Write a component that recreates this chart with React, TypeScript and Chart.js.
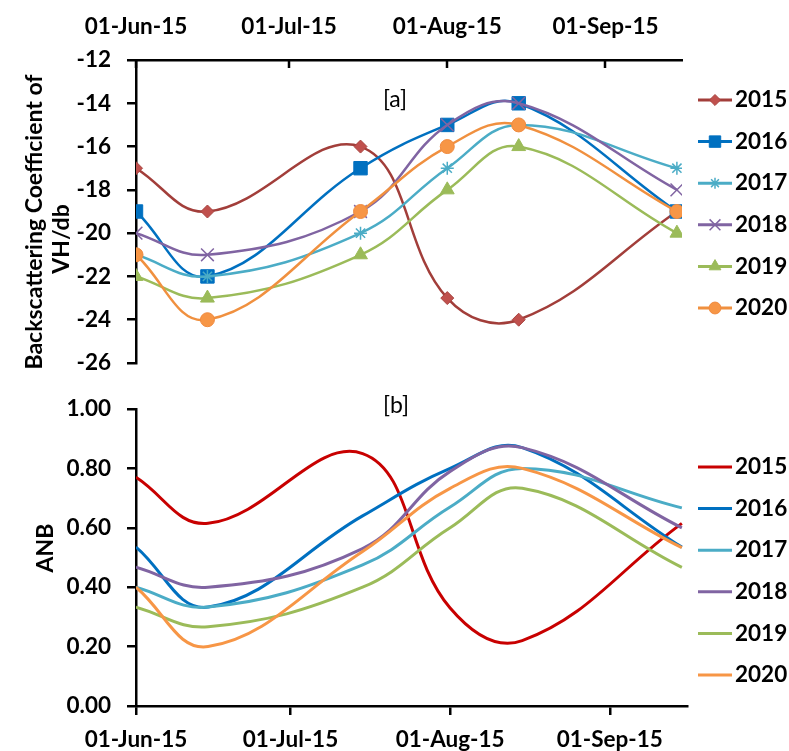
import React, { useEffect, useRef } from 'react';
import { Chart, registerables } from 'chart.js';
import { drawPoint } from 'chart.js/helpers';

Chart.register(...registerables);

const FONT = 'Lato, "Open Sans", "DejaVu Sans", sans-serif';
const FS = 22.5;

// ---------- data ----------
const seriesNames = ['2015', '2016', '2017', '2018', '2019', '2020'];
// acquisition dates as day offsets from 01-Jun-2015
const sampleDays = [0, 14, 44, 61, 75, 106];
const axisMaxDay = 107;
const tickDays = [0, 30, 61, 92];
const tickLabels = ['01-Jun-15', '01-Jul-15', '01-Aug-15', '01-Sep-15'];

const vh2015 = [-17, -19, -16, -23, -24, -19];
const vh2016 = [-19, -22, -17, -15, -14, -19];
const vh2017 = [-21, -22, -20, -17, -15, -17];
const vh2018 = [-20, -21, -19, -15, -14, -18];
const vh2019 = [-22, -23, -21, -18, -16, -20];
const vh2020 = [-21, -24, -19, -16, -15, -19];

const anb2015 = [0.77, 0.615, 0.85, 0.33, 0.22, 0.615];
const anb2016 = [0.535, 0.333, 0.64, 0.8, 0.87, 0.535];
const anb2017 = [0.4, 0.333, 0.475, 0.67, 0.8, 0.667];
const anb2018 = [0.467, 0.4, 0.53, 0.79, 0.87, 0.6];
const anb2019 = [0.333, 0.267, 0.4, 0.6, 0.733, 0.467];
const anb2020 = [0.4, 0.2, 0.52, 0.733, 0.8, 0.533];

const vhSeries = [vh2015, vh2016, vh2017, vh2018, vh2019, vh2020];
const anbSeries = [anb2015, anb2016, anb2017, anb2018, anb2019, anb2020];

// ---------- styles ----------
const topLineColors = ['#A23E3A', '#0070C0', '#4BACC6', '#8064A2', '#9BBB59', '#F0903F'];
const topMarkerFill = ['#C0504D', '#0070C0', '#4BACC6', '#8064A2', '#9BBB59', '#F79646'];
const topMarkerBorder = ['#A8433F', '#0070C0', '#4BACC6', '#8064A2', '#9BBB59', '#F08A3E'];
const pointStyles = ['rectRot', 'rect', 'star', 'crossRot', 'triangle', 'circle'];
const pointRadii = [6.5, 9.5, 6.5, 9, 8, 7];
const pointBorderWidths = [1, 1, 1.5, 1.5, 1, 1];
const botLineColors = ['#C80000', '#0070C0', '#4BACC6', '#8064A2', '#9BBB59', '#F79646'];

const tickFont = { family: FONT, size: FS, weight: 'bold' as const };

function drawLegend(ctx: CanvasRenderingContext2D, startY: number, step: number, lineColors: string[], markers: boolean) {
  seriesNames.forEach((name, i) => {
    const y = startY + i * step;
    ctx.save();
    ctx.strokeStyle = lineColors[i];
    ctx.lineWidth = 3;
    ctx.beginPath();
    ctx.moveTo(698, y);
    ctx.lineTo(732, y);
    ctx.stroke();
    if (markers) {
      ctx.fillStyle = topMarkerFill[i];
      ctx.strokeStyle = topMarkerBorder[i];
      ctx.lineWidth = pointBorderWidths[i];
      drawPoint(ctx, { pointStyle: pointStyles[i] as any, radius: pointRadii[i] * 0.85, rotation: 0, borderWidth: pointBorderWidths[i] }, 715, y);
    }
    ctx.fillStyle = '#000';
    ctx.font = `bold ${FS}px ${FONT}`;
    ctx.textAlign = 'left';
    ctx.textBaseline = 'middle';
    ctx.fillText(name, 735, y);
    ctx.restore();
  });
}

function drawRotated(ctx: CanvasRenderingContext2D, text: string, x: number, y: number) {
  ctx.save();
  ctx.translate(x, y);
  ctx.rotate(-Math.PI / 2);
  ctx.font = `bold ${FS + 0.5}px ${FONT}`;
  ctx.fillStyle = '#000';
  ctx.textAlign = 'center';
  ctx.textBaseline = 'middle';
  ctx.fillText(text, 0, 0);
  ctx.restore();
}

function drawTag(ctx: CanvasRenderingContext2D, text: string, x: number, y: number) {
  ctx.save();
  ctx.font = `${FS + 0.5}px ${FONT}`;
  ctx.fillStyle = '#000';
  ctx.textAlign = 'center';
  ctx.textBaseline = 'middle';
  ctx.fillText(text, x, y);
  ctx.restore();
}

const topOverlay = {
  id: 'topOverlay',
  afterDraw(chart: any) {
    const ctx: CanvasRenderingContext2D = chart.ctx;
    const xs = chart.scales.x;
    ctx.save();
    ctx.strokeStyle = '#000';
    ctx.lineWidth = 2.5;
    tickDays.forEach((d) => {
      const px = Math.round(xs.getPixelForValue(d));
      ctx.beginPath();
      ctx.moveTo(px, xs.bottom);
      ctx.lineTo(px, xs.bottom + 8);
      ctx.stroke();
    });
    ctx.restore();
    drawLegend(ctx, 100, 41.6, topLineColors, true);
    drawRotated(ctx, 'Backscattering Coefficient of', 35, 222);
    drawRotated(ctx, 'VH/db', 62, 239);
    drawTag(ctx, '[a]', 395, 100);
  },
};

const botOverlay = {
  id: 'botOverlay',
  afterDraw(chart: any) {
    const ctx: CanvasRenderingContext2D = chart.ctx;
    drawLegend(ctx, 77, 41.6, botLineColors, false);
    drawRotated(ctx, 'ANB', 46, 158);
    drawTag(ctx, '[b]', 396, 16);
  },
};

function xScale(position: 'top' | 'bottom', height: number, padding: number, withTicks: boolean) {
  return {
    type: 'linear' as const,
    position,
    min: 0,
    max: axisMaxDay,
    afterBuildTicks: (s: any) => {
      s.ticks = tickDays.map((v) => ({ value: v }));
    },
    ticks: {
      autoSkip: false,
      maxRotation: 0,
      padding,
      color: '#000',
      font: tickFont,
      callback: (_v: any, i: number) => tickLabels[i],
    },
    grid: withTicks
      ? { drawOnChartArea: false, color: '#000', lineWidth: 2.5, tickLength: 9 }
      : { display: false },
    border: { display: true, color: '#000', width: 2.5 },
    afterFit: (s: any) => {
      s.height = height;
      s.paddingLeft = 0;
      s.paddingRight = 0;
    },
  };
}

function yScale(min: number, max: number, step: number, fmt: (v: number) => string) {
  return {
    type: 'linear' as const,
    min,
    max,
    ticks: {
      stepSize: step,
      padding: 16,
      color: '#000',
      font: tickFont,
      callback: (v: any) => fmt(Number(v)),
    },
    grid: { drawOnChartArea: false, color: '#000', lineWidth: 2.5, tickLength: 9 },
    border: { display: true, color: '#000', width: 2.5 },
    afterFit: (s: any) => {
      s.width = 136;
      s.paddingTop = 0;
      s.paddingBottom = 0;
    },
  };
}

export default function App() {
  const topRef = useRef<HTMLCanvasElement>(null);
  const botRef = useRef<HTMLCanvasElement>(null);

  useEffect(() => {
    document.body.style.margin = '0';
    const topChart = new Chart(topRef.current!, {
      type: 'line',
      data: {
        datasets: vhSeries.map((vals, i) => ({
          label: seriesNames[i],
          data: sampleDays.map((d, j) => ({ x: d, y: vals[j] })),
          borderColor: topLineColors[i],
          backgroundColor: topMarkerFill[i],
          pointBackgroundColor: topMarkerFill[i],
          pointBorderColor: topMarkerBorder[i],
          pointStyle: pointStyles[i] as any,
          pointRadius: pointRadii[i],
          pointBorderWidth: pointBorderWidths[i],
          borderWidth: 2.5,
          tension: 0.4,
          fill: false,
          order: 5 - i,
        })),
      },
      options: {
        responsive: false,
        animation: false,
        events: [],
        layout: { padding: { left: 0, top: 0, right: 107, bottom: 27 } },
        plugins: { legend: { display: false }, tooltip: { enabled: false } },
        scales: {
          x: xScale('top', 60, 12, false),
          y: yScale(-26, -12, 2, (v) => String(v)),
        },
      },
      plugins: [topOverlay],
    });

    const botChart = new Chart(botRef.current!, {
      type: 'line',
      data: {
        datasets: anbSeries.map((vals, i) => ({
          label: seriesNames[i],
          data: sampleDays.map((d, j) => ({ x: d, y: vals[j] })),
          borderColor: botLineColors[i],
          backgroundColor: botLineColors[i],
          pointRadius: 0,
          borderWidth: 3,
          tension: 0.4,
          fill: false,
          order: 5 - i,
        })),
      },
      options: {
        responsive: false,
        animation: false,
        events: [],
        layout: { padding: { left: 0, top: 19, right: 102, bottom: 0 } },
        plugins: { legend: { display: false }, tooltip: { enabled: false } },
        scales: {
          x: xScale('bottom', 45, 11, true),
          y: yScale(0, 1, 0.2, (v) => v.toFixed(2)),
        },
      },
      plugins: [botOverlay],
    });

    return () => {
      topChart.destroy();
      botChart.destroy();
    };
  }, []);

  return (
    <div style={{ position: 'relative', width: 789, height: 751, background: '#fff' }}>
      <canvas ref={topRef} width={789} height={390} style={{ position: 'absolute', left: 0, top: 0, width: 789, height: 390 }} />
      <canvas ref={botRef} width={789} height={361} style={{ position: 'absolute', left: 0, top: 390, width: 789, height: 361 }} />
    </div>
  );
}
